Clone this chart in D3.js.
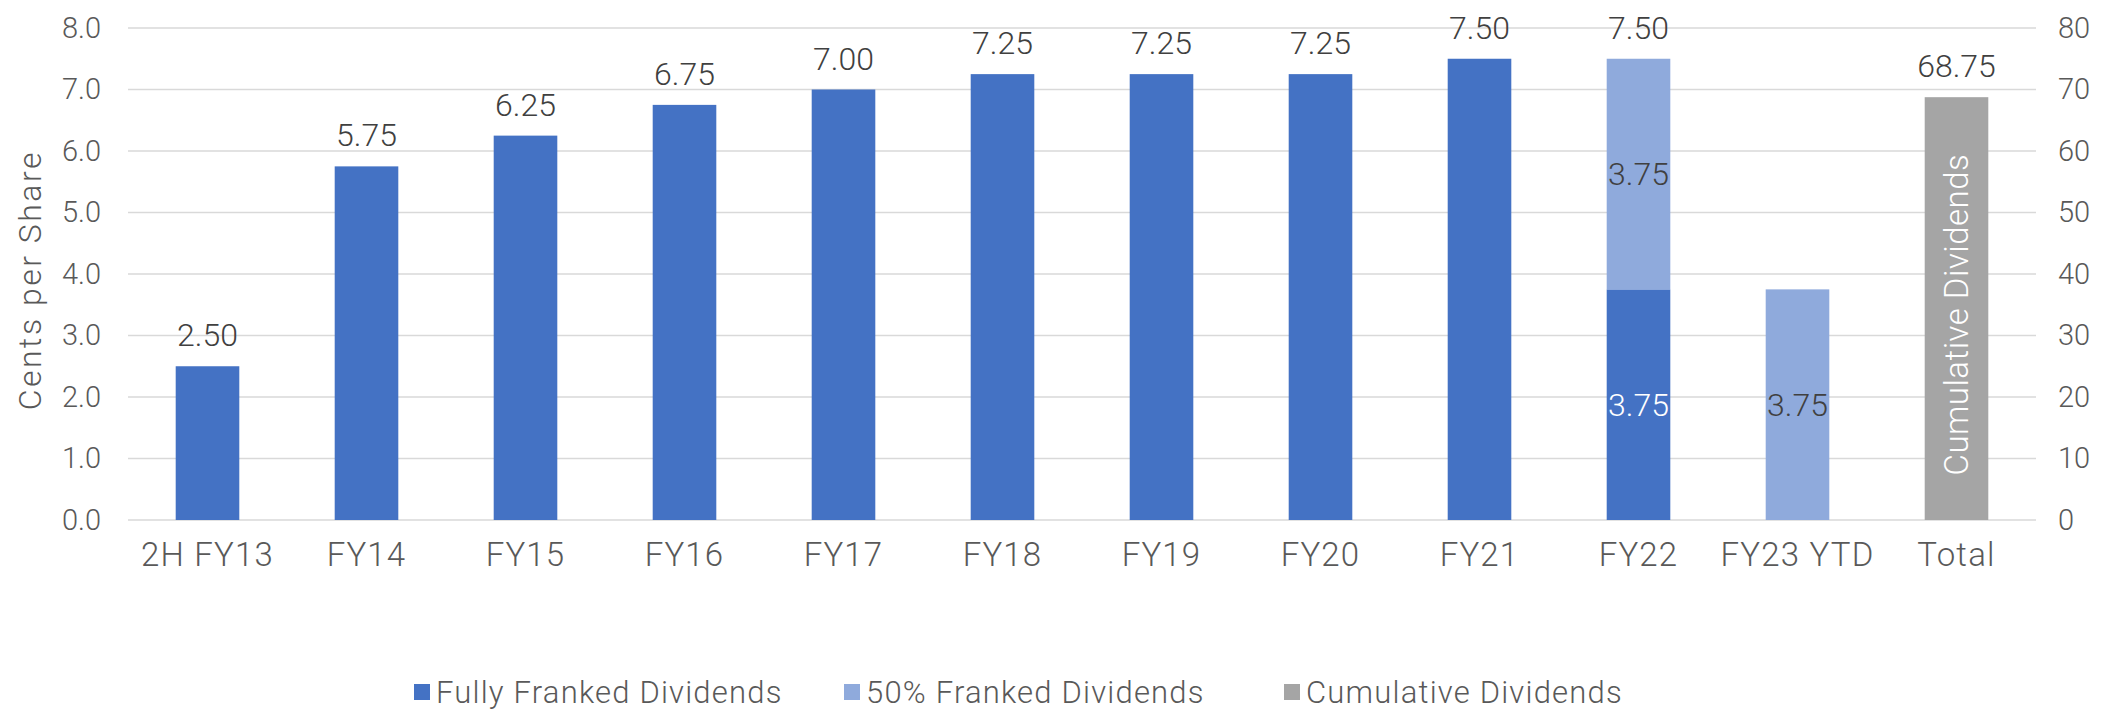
<!DOCTYPE html>
<html>
<head>
<meta charset="utf-8">
<script src="https://cdn.jsdelivr.net/npm/d3@7"></script>
<style>
  body { margin: 0; background: #fff; }
  text { font-family: Roboto, "Liberation Sans", sans-serif; font-weight: 300; }
</style>
</head>
<body>
<script>
const width = 2120;
const height = 711;

const categories = ["2H FY13", "FY14", "FY15", "FY16", "FY17", "FY18", "FY19", "FY20", "FY21", "FY22", "FY23 YTD", "Total"];
const fullyFranked = [2.50, 5.75, 6.25, 6.75, 7.00, 7.25, 7.25, 7.25, 7.50, 3.75, 0, 0];
const halfFranked = [0, 0, 0, 0, 0, 0, 0, 0, 0, 3.75, 3.75, 0];
const cumulative = [0, 0, 0, 0, 0, 0, 0, 0, 0, 0, 0, 68.75];
const leftTicks = [0, 1, 2, 3, 4, 5, 6, 7, 8];
const rightTicks = [0, 10, 20, 30, 40, 50, 60, 70, 80];
const seriesNames = ["Fully Franked Dividends", "50% Franked Dividends", "Cumulative Dividends"];
const seriesColors = ["#4472c4", "#8faadc", "#a5a5a5"];

const margin = { left: 128, right: 84, top: 28, bottom: 191 };

const svg = d3.select("body")
  .append("svg")
  .attr("width", width)
  .attr("height", height);

const x = d3.scaleBand()
  .domain(categories)
  .range([margin.left, width - margin.right])
  .paddingInner(0.6)
  .paddingOuter(0.3);

const y = d3.scaleLinear()
  .domain([0, 8])
  .range([height - margin.bottom, margin.top]);

const y2 = d3.scaleLinear()
  .domain([0, 80])
  .range([height - margin.bottom, margin.top]);

// gridlines
svg.append("g")
  .selectAll("line")
  .data(leftTicks)
  .enter()
  .append("line")
  .attr("x1", margin.left)
  .attr("x2", width - margin.right)
  .attr("y1", d => y(d))
  .attr("y2", d => y(d))
  .attr("stroke", "#d9d9d9")
  .attr("stroke-width", 1.5);

// left axis
const yAxis = d3.axisLeft(y)
  .tickValues(leftTicks)
  .tickFormat(d3.format(".1f"))
  .tickSize(0)
  .tickPadding(27);

svg.append("g")
  .attr("transform", `translate(${margin.left}, 0)`)
  .call(yAxis)
  .call(g => g.select(".domain").remove())
  .selectAll("text")
  .attr("font-size", 29)
  .attr("fill", "#595959");

// right axis
const yAxis2 = d3.axisRight(y2)
  .tickValues(rightTicks)
  .tickSize(0)
  .tickPadding(22);

svg.append("g")
  .attr("transform", `translate(${width - margin.right}, 0)`)
  .call(yAxis2)
  .call(g => g.select(".domain").remove())
  .selectAll("text")
  .attr("font-size", 29)
  .attr("fill", "#595959");

// x axis
const xAxis = d3.axisBottom(x).tickSize(0).tickPadding(23);

svg.append("g")
  .attr("transform", `translate(0, ${height - margin.bottom})`)
  .call(xAxis)
  .call(g => g.select(".domain").remove())
  .selectAll("text")
  .attr("font-size", 33)
  .attr("letter-spacing", 1.2)
  .attr("fill", "#595959");

// axis title
svg.append("text")
  .attr("transform", `translate(30, ${y(3.9)}) rotate(-90)`)
  .attr("text-anchor", "middle")
  .attr("dominant-baseline", "central")
  .attr("font-size", 32)
  .attr("letter-spacing", 2.5)
  .attr("fill", "#595959")
  .text("Cents per Share");

const rows = categories.map((c, i) => ({
  cat: c,
  full: fullyFranked[i],
  half: halfFranked[i],
  cum: cumulative[i]
}));

// fully franked
svg.selectAll(".full")
  .data(rows.filter(d => d.full > 0))
  .enter()
  .append("rect")
  .attr("class", "full")
  .attr("x", d => x(d.cat))
  .attr("width", x.bandwidth())
  .attr("y", d => y(d.full))
  .attr("height", d => y(0) - y(d.full))
  .attr("fill", seriesColors[0]);

// 50% franked, stacked on top
svg.selectAll(".half")
  .data(rows.filter(d => d.half > 0))
  .enter()
  .append("rect")
  .attr("class", "half")
  .attr("x", d => x(d.cat))
  .attr("width", x.bandwidth())
  .attr("y", d => y(d.full + d.half))
  .attr("height", d => y(d.full) - y(d.full + d.half))
  .attr("fill", seriesColors[1]);

// cumulative on secondary axis
svg.selectAll(".cum")
  .data(rows.filter(d => d.cum > 0))
  .enter()
  .append("rect")
  .attr("class", "cum")
  .attr("x", d => x(d.cat))
  .attr("width", x.bandwidth())
  .attr("y", d => y2(d.cum))
  .attr("height", d => y2(0) - y2(d.cum))
  .attr("fill", seriesColors[2]);

const fmt = d3.format(".2f");
const labels = svg.append("g").attr("font-size", 32).attr("text-anchor", "middle");

rows.forEach(d => {
  const cx = x(d.cat) + x.bandwidth() / 2;
  if (d.full > 0 && d.half > 0) {
    labels.append("text").attr("x", cx).attr("y", y((d.full) / 2)).attr("dominant-baseline", "central")
      .attr("fill", "#fff").text(fmt(d.full));
    labels.append("text").attr("x", cx).attr("y", y(d.full + d.half / 2)).attr("dominant-baseline", "central")
      .attr("fill", "#404040").text(fmt(d.half));
    labels.append("text").attr("x", cx).attr("y", y(d.full + d.half) - 31).attr("dominant-baseline", "central")
      .attr("fill", "#404040").text(fmt(d.full + d.half));
  } else if (d.half > 0) {
    labels.append("text").attr("x", cx).attr("y", y(d.half / 2)).attr("dominant-baseline", "central")
      .attr("fill", "#404040").text(fmt(d.half));
  } else if (d.full > 0) {
    labels.append("text").attr("x", cx).attr("y", y(d.full) - 31).attr("dominant-baseline", "central")
      .attr("fill", "#404040").text(fmt(d.full));
  } else if (d.cum > 0) {
    labels.append("text").attr("x", cx).attr("y", y2(d.cum) - 31).attr("dominant-baseline", "central")
      .attr("fill", "#404040").text(fmt(d.cum));
    labels.append("text")
      .attr("transform", `translate(${cx}, ${y2(d.cum / 2) + 6}) rotate(-90)`)
      .attr("dominant-baseline", "central")
      .attr("font-size", 33)
      .attr("letter-spacing", 0.5)
      .attr("fill", "#fff")
      .text(seriesNames[2]);
  }
});

// legend
const legendX = [414, 844, 1284];
const legend = svg.append("g").attr("transform", `translate(0, 692)`);

seriesNames.forEach((name, i) => {
  legend.append("rect")
    .attr("x", legendX[i])
    .attr("y", -8)
    .attr("width", 16)
    .attr("height", 16)
    .attr("fill", seriesColors[i]);
  legend.append("text")
    .attr("x", legendX[i] + 22)
    .attr("y", 0)
    .attr("dominant-baseline", "central")
    .attr("font-size", 31)
    .attr("letter-spacing", 1.2)
    .attr("fill", "#595959")
    .text(name);
});
</script>
</body>
</html>
